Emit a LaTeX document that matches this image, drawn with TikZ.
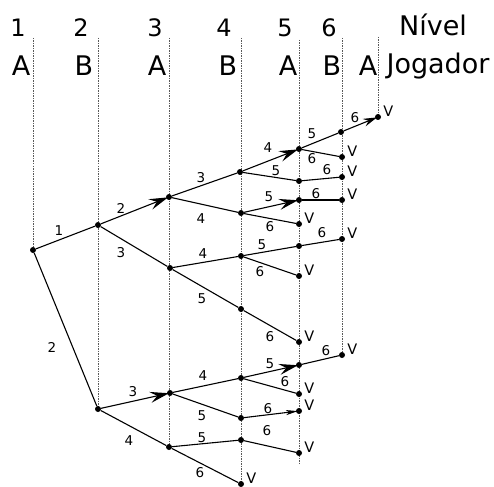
\documentclass[tikz,border=0pt]{standalone}
\usepackage{fontspec}
\setmainfont{DejaVu Sans}
\usetikzlibrary{arrows.meta,backgrounds}
\begin{document}
\begin{tikzpicture}[x=1pt,y=-1pt,
  dot/.style={circle,fill=black,inner sep=0pt,minimum size=6pt},
  leaf/.style={dot,label={[vlab]east:V}},
  vlab/.style={anchor=south west,inner sep=0pt,xshift=2pt,font=\fontsize{14.5}{14.5}\selectfont},
  elab/.style={inner sep=0pt,font=\fontsize{13.5}{14}\selectfont},
  lvl/.style={anchor=base,inner sep=0pt,font=\fontsize{24}{24}\selectfont},
  ply/.style={anchor=base,inner sep=0pt,font=\fontsize{27}{27}\selectfont},
  guide/.style={black!65,line width=0.8pt,dash pattern=on 1.5pt off 1pt},
  move/.style={line width=1.1pt},
  bigarrow/.style={move,shorten >=1pt,-{Stealth[length=19pt,width=11pt,inset=7pt]}},
  midarrow/.style={move,shorten >=1pt,-{Stealth[length=14pt,width=8pt,inset=5pt]}},
  smallarrow/.style={move,shorten >=1pt,-{Stealth[length=12pt,width=5pt,inset=3pt]}}
]
\useasboundingbox (0,0) rectangle (494,486);

% level numbers, player row and headings
\node[lvl] (n1) at (18,37) {1};
\node[lvl] (n2) at (81,37) {2};
\node[lvl] (n3) at (155,37) {3};
\node[lvl] (n4) at (224,37) {4};
\node[lvl] (n5) at (285,37) {5};
\node[lvl] (n6) at (329,37) {6};
\node[ply] (nivel) at (433,36) {Nível};
\node[ply] (p1) at (21,76) {A};
\node[ply] (p2) at (84,76) {B};
\node[ply] (p3) at (157,76) {A};
\node[ply] (p4) at (228,76) {B};
\node[ply] (p5) at (288,76) {A};
\node[ply] (p6) at (332,76) {B};
\node[ply] (p7) at (368,76) {A};
\node[ply] (jog) at (438,74) {Jogador};

% game tree nodes
\node[dot] (R) at (33,250) {};
\node[dot] (a) at (98,225) {};
\node[dot] (b) at (98,409) {};
\node[dot] (c) at (169,197) {};
\node[dot] (d) at (170,268) {};
\node[dot] (e) at (170,393) {};
\node[dot] (f) at (169,447) {};
\node[dot] (g) at (240,172) {};
\node[dot] (h) at (241,213) {};
\node[dot] (i) at (241,256) {};
\node[dot] (j) at (241,309) {};
\node[dot] (k) at (241,378) {};
\node[dot] (l) at (241,418) {};
\node[dot] (m) at (241,440) {};
\node[leaf] (n) at (241,484) {};
\node[dot] (o) at (299,149) {};
\node[dot] (p) at (299,181) {};
\node[dot] (q) at (299,200) {};
\node[leaf] (r) at (299,224) {};
\node[dot] (s) at (299,246) {};
\node[leaf] (t) at (299,276) {};
\node[leaf] (u) at (299,342) {};
\node[dot] (v) at (299,365) {};
\node[leaf] (w) at (299,394) {};
\node[leaf] (x) at (299,411) {};
\node[leaf] (y) at (299,453) {};
\node[dot] (z) at (341,132) {};
\node[leaf] (o6) at (342,157) {};
\node[leaf] (p6) at (342,177) {};
\node[leaf] (q6) at (342,200) {};
\node[leaf] (s6) at (342,239) {};
\node[leaf] (v6) at (342,355) {};
\node[leaf] (top) at (378,117) {};

% dotted level guides
\coordinate (t1) at (33,38);
\coordinate (t2) at (98,38);
\coordinate (t3) at (169,38);
\coordinate (t4) at (241,38);
\coordinate (t5) at (299,40);
\coordinate (t6) at (342,38);
\coordinate (t7) at (378,37);
\coordinate (b5) at (299,463);
\begin{scope}[on background layer]
  \draw[guide] (t1) -- (R.center);
  \draw[guide] (t2) -- (b.center);
  \draw[guide] (t3) -- (f.center);
  \draw[guide] (t4) -- (n.center);
  \draw[guide] (t5) -- (b5);
  \draw[guide] (t6) -- (v6.center);
  \draw[guide] (t7) -- (top.center);
\end{scope}

% moves
\draw[move] (R) -- (a);
\draw[move] (R) -- (b);
\draw[bigarrow] (a) -- (c.center);
\draw[move] (a) -- (d);
\draw[bigarrow] (b) -- (e.center);
\draw[move] (b) -- (f);
\draw[move] (c) -- (g);
\draw[move] (c) -- (h);
\draw[move] (d) -- (i);
\draw[move] (d) -- (j);
\draw[move] (e) -- (k);
\draw[move] (e) -- (l);
\draw[move] (f) -- (m);
\draw[move] (f) -- (n);
\draw[bigarrow] (g) -- (o.center);
\draw[move] (g) -- (p);
\draw[bigarrow] (h) -- (q.center);
\draw[move] (h) -- (r);
\draw[move] (i) -- (s);
\draw[move] (i) -- (t);
\draw[move] (j) -- (u);
\draw[bigarrow] (k) -- (v.center);
\draw[move] (k) -- (w);
\draw[smallarrow] (l) -- (x.center);
\draw[move] (m) -- (y);
\draw[move] (o) -- (z);
\draw[move] (o) -- (o6);
\draw[move] (p) -- (p6);
\draw[move] (q) -- (q6);
\draw[move] (s) -- (s6);
\draw[move] (v) -- (v6);
\draw[midarrow] (z) -- (top.center);

% move numbers
\node[elab] (lRa) at (59,231) {1};
\node[elab] (lRb) at (52,347) {2};
\node[elab] (lac) at (121,208) {2};
\node[elab] (lad) at (121,253) {3};
\node[elab] (lcg) at (201,178) {3};
\node[elab] (lch) at (201,219) {4};
\node[elab] (ldi) at (203,254) {4};
\node[elab] (ldj) at (202,299) {5};
\node[elab] (lbe) at (133,392) {3};
\node[elab] (lbf) at (129,441) {4};
\node[elab] (lek) at (203,376) {4};
\node[elab] (lel) at (202,416) {5};
\node[elab] (lfm) at (202,438) {5};
\node[elab] (lfn) at (200,473) {6};
\node[elab] (lgo) at (268,148) {4};
\node[elab] (lgp) at (276,171) {5};
\node[elab] (loz) at (312,134) {5};
\node[elab] (loo) at (312,159) {6};
\node[elab] (lzt) at (355,118) {6};
\node[elab] (lpp) at (327,170) {6};
\node[elab] (lhq) at (269,197) {5};
\node[elab] (lhr) at (270,227) {6};
\node[elab] (lqq) at (316,194) {6};
\node[elab] (lis) at (262,245) {5};
\node[elab] (lss) at (322,233) {6};
\node[elab] (lit) at (260,272) {6};
\node[elab] (lju) at (270,337) {6};
\node[elab] (lkv) at (270,364) {5};
\node[elab] (lvv) at (326,351) {6};
\node[elab] (lkw) at (285,382) {6};
\node[elab] (llx) at (268,409) {6};
\node[elab] (lmy) at (267,431) {6};
\end{tikzpicture}
\end{document}
